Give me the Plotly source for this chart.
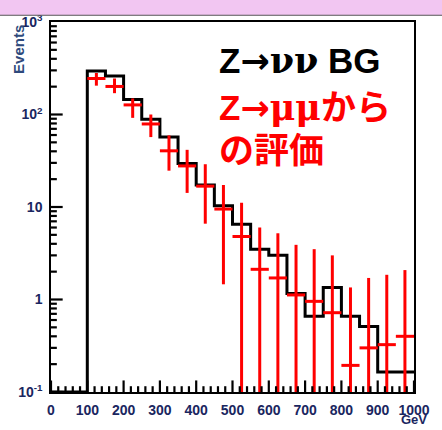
import plotly.graph_objects as go

# ---- data ----
bin_edges = list(range(0, 1001, 50))
mc_counts = [0.1, 0.1, 295, 260, 145, 89, 57, 29.6, 17.3, 10.3, 6.5, 3.5, 3.0,
             1.16, 0.66, 1.35, 0.66, 0.51, 0.165, 0.165]

data_centers = [125, 175, 225, 275, 325, 375, 425, 475, 525, 575, 625, 675,
                725, 775, 825, 875, 925, 975]
data_values = [245, 201, 127, 79, 40.5, 27.8, 16.8, 9.5, 4.8, 2.12, 1.71, 1.12,
               0.955, 0.72, 0.194, 0.30, 0.325, 0.40]
data_high = [281, 245, 149, 100, 59.4, 41.5, 29, 17.3, 11.1, 6.0, 5.2, 3.9,
             3.5, 3.0, 1.35, 1.71, 1.85, 2.08]
data_low = [205, 170, 92, 57, 24.7, 14.2, 6.6, 1.46, 0.01, 0.01, 0.01, 0.01,
            0.01, 0.01, 0.01, 0.01, 0.01, 0.01]

y_tickvals = [0.1, 1, 10, 100, 1000]
y_ticktext = ["10<sup>-1</sup>", "1", "10", "10<sup>2</sup>", "10<sup>3</sup>"]

label_color = "#1a2660"
sans = "Liberation Sans, Arial, Noto Sans CJK JP"
x_range = [0, 1000]
y_range = [-1, 3]

W, H = 442, 430
M = dict(l=51, r=18, t=12, b=34)
plot_w = W - M["l"] - M["r"]
plot_h = H - M["t"] - M["b"]

fig = go.Figure()

# MC histogram (black step line)
fig.add_trace(go.Scatter(
    x=bin_edges, y=mc_counts + [mc_counts[-1]],
    mode="lines", line=dict(color="black", width=3, shape="hv"),
    showlegend=False, hoverinfo="skip"))

half_bin = (bin_edges[1] - bin_edges[0]) / 2
fig.add_trace(go.Scatter(
    x=data_centers, y=data_values, mode="markers",
    marker=dict(size=0.1, color="red", opacity=0),
    error_x=dict(type="constant", value=half_bin, width=0, thickness=3, color="red"),
    error_y=dict(type="data", symmetric=False,
                 array=[h - v for h, v in zip(data_high, data_values)],
                 arrayminus=[v - l for v, l in zip(data_values, data_low)],
                 width=0, thickness=3, color="red"),
    showlegend=False, hoverinfo="skip"))

# ---- tick marks (ROOT style, inside) drawn as shapes ----
tick_line = dict(color="black", width=2.2)
shapes = []
for v in range(x_range[0], x_range[1] + 1, 20):
    ln = 12 if v % 100 == 0 else 6
    shapes.append(dict(type="line", xref="x", yref="paper", x0=v, x1=v,
                       y0=0, y1=ln / plot_h, line=tick_line, layer="above"))
for k in range(y_range[0], y_range[1]):
    for d in range(1, 10):
        v = d * 10 ** k
        ln = 12 if d == 1 else 6
        shapes.append(dict(type="line", xref="paper", yref="y", x0=0, x1=ln / plot_w,
                           y0=v, y1=v, line=tick_line, layer="above"))
# slide header strip at the very top
shapes.append(dict(type="rect", xref="paper", yref="paper", x0=-0.2, x1=1.1,
                   y0=1 + 7 / plot_h, y1=1.1, fillcolor="#f2c6f2",
                   line=dict(color="#555555", width=1), layer="above"))

tickfont = dict(family=sans, size=14, color=label_color, weight="bold")

fig.update_layout(
    width=W, height=H,
    margin=M,
    paper_bgcolor="white", plot_bgcolor="white",
    xaxis=dict(range=x_range, showline=True, linecolor="black", linewidth=1.5,
               mirror=True, ticks="", tick0=0, dtick=100, showgrid=False,
               zeroline=False, tickfont=tickfont, ticklabelstandoff=4),
    yaxis=dict(type="log", range=y_range, showline=True, linecolor="black",
               linewidth=1.5, mirror=True, ticks="", tickmode="array",
               tickvals=y_tickvals, ticktext=y_ticktext, showgrid=False,
               zeroline=False, tickfont=tickfont, ticklabelstandoff=4),
    shapes=shapes,
    annotations=[
        dict(text="Events", xref="paper", yref="paper", x=-0.09, y=0.997,
             xanchor="center", yanchor="top", textangle=-90, showarrow=False,
             font=dict(family=sans, size=15, color="#2e4a7c", weight="bold")),
        dict(text="GeV", xref="paper", yref="paper", x=1.04, y=-0.074,
             xanchor="right", yanchor="middle", showarrow=False,
             font=dict(family=sans, size=13, color=label_color, weight="bold")),
        dict(text="Z<span style='font-family:DejaVu Sans'>→</span>"
                  "<span style='font-family:DejaVu Serif'>νν</span> BG",
             xref="paper", yref="paper", x=0.458, y=0.897,
             xanchor="left", yanchor="middle", showarrow=False,
             font=dict(family=sans, size=35, color="black", weight="bold")),
        dict(text="Z<span style='font-family:DejaVu Sans'>→</span>"
                  "<span style='font-family:DejaVu Serif'>μμ</span>から",
             xref="paper", yref="paper", x=0.458, y=0.770,
             xanchor="left", yanchor="middle", showarrow=False,
             font=dict(family=sans, size=35, color="red", weight="bold")),
        dict(text="の評価",
             xref="paper", yref="paper", x=0.458, y=0.654,
             xanchor="left", yanchor="middle", showarrow=False,
             font=dict(family=sans, size=35, color="red", weight="bold")),
    ],
)

fig.write_html("out.html")
